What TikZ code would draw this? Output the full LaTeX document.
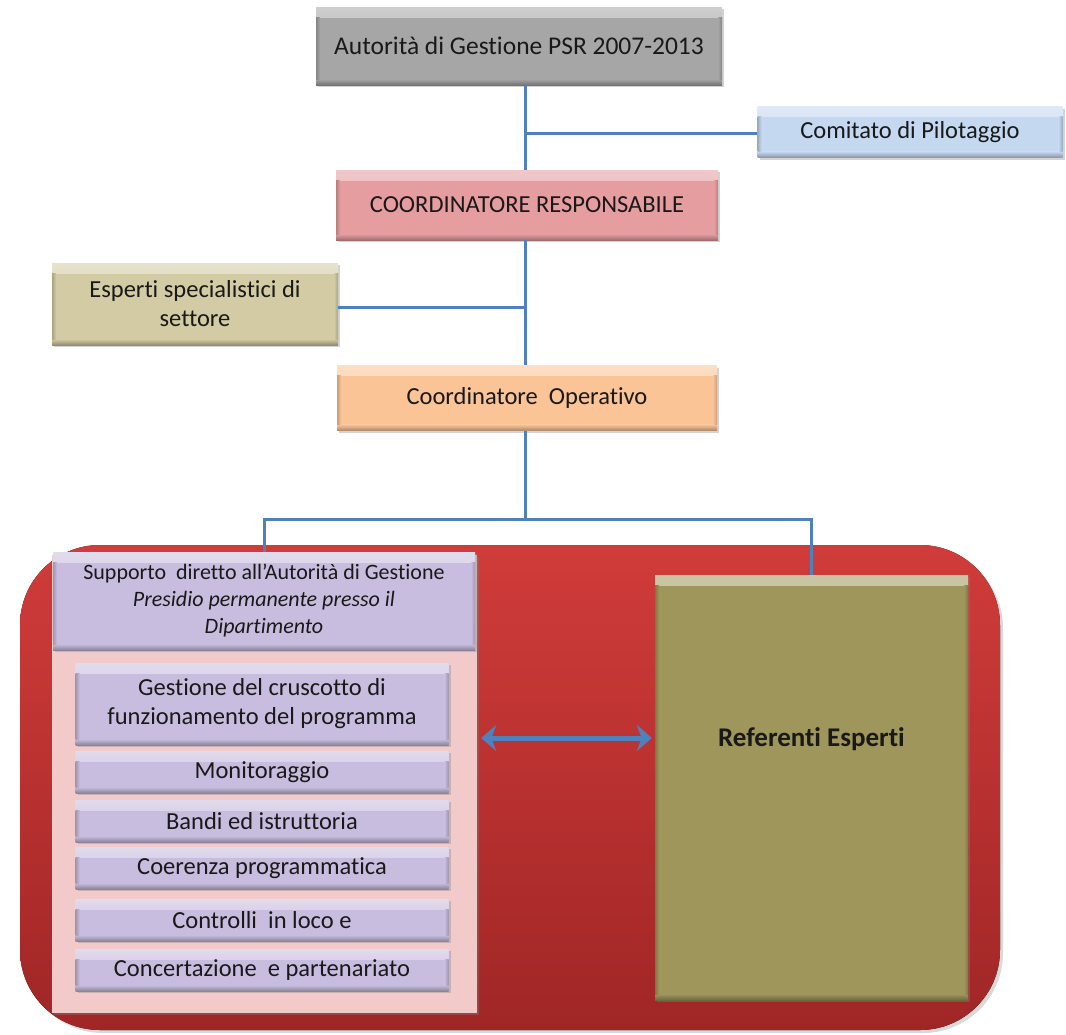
\documentclass[tikz,border=0pt]{standalone}
\usepackage{fontspec}
\setmainfont{Carlito}[Ligatures={TeX,NoCommon}]
\usetikzlibrary{arrows.meta,shadows}

\definecolor{titlegray}{RGB}{166,166,166}
\definecolor{pilotblue}{RGB}{196,216,240}
\definecolor{resppink}{RGB}{229,157,160}
\definecolor{khaki}{RGB}{210,203,163}
\definecolor{peach}{RGB}{250,196,150}
\definecolor{redtop}{RGB}{208,60,58}
\definecolor{redbottom}{RGB}{160,38,38}
\definecolor{pinkpanel}{RGB}{242,202,202}
\definecolor{lavender}{RGB}{200,189,222}
\definecolor{olive}{RGB}{158,150,90}
\definecolor{linkblue}{RGB}{79,129,189}

\begin{document}
\begin{tikzpicture}[x=1pt,y=-1pt,
	box/.style={inner sep=2pt, align=center, text=black!90,
		font=\fontsize{24.5}{29}\selectfont,
		drop shadow={shadow xshift=2pt, shadow yshift=-2pt, opacity=.35}},
	bevel/.style={fill=#1, path picture={
		\fill[top color=#1!55!white, bottom color=#1]
			(path picture bounding box.north west) rectangle ([yshift=-10pt]path picture bounding box.north east);
		\fill[top color=#1, bottom color=#1!70!black]
			([yshift=6pt]path picture bounding box.south west) rectangle (path picture bounding box.south east);
		\fill[left color=#1!80!black, right color=#1]
			([yshift=-10pt]path picture bounding box.north west) rectangle ([xshift=4pt,yshift=6pt]path picture bounding box.south west);
		\fill[left color=#1, right color=#1!80!black]
			([xshift=-4pt,yshift=-10pt]path picture bounding box.north east) rectangle ([yshift=6pt]path picture bounding box.south east);}},
	item/.style={box, bevel=lavender, minimum width=373pt, minimum height=42pt},
	link/.style={draw=linkblue, line width=3pt},
	biarrow/.style={draw=linkblue, line width=5pt,
		{Stealth[length=15pt,width=26pt]}-{Stealth[length=15pt,width=26pt]}}]
			\useasboundingbox (0,0) rectangle (1066,1034);
			
			% upper chain
			\node[box, bevel=titlegray, minimum width=406pt, minimum height=78pt, font=\fontsize{25.5}{30}\selectfont] (adg) at (519,46) {Autorità di Gestione PSR 2007-2013};
			\node[box, bevel=pilotblue, minimum width=305pt, minimum height=51pt] (cdp) at (910,132) {Comitato di Pilotaggio};
			\node[box, bevel=resppink, minimum width=382pt, minimum height=70pt] (cres) at (527,205) {COORDINATORE RESPONSABILE};
			\node[box, bevel=khaki, minimum width=286pt, minimum height=82pt] (esp) at (195,304) {Esperti specialistici di\\settore};
			\node[box, bevel=peach, minimum width=380pt, minimum height=65pt] (cop) at (527,398) {Coordinatore\ \ Operativo};
			
			% red panel
			\fill[top color=redtop, bottom color=redbottom, rounded corners=80pt,
				drop shadow={shadow xshift=3pt, shadow yshift=-3pt, opacity=.3}] (20,545) rectangle (1000,1030);
			
			\node[fill=pinkpanel, minimum width=425pt, minimum height=458pt,
				drop shadow={shadow xshift=2pt, shadow yshift=-2pt, opacity=.35}] (pnl) at (264.5,784) {};
			\node[box, bevel=lavender, minimum width=422pt, minimum height=98pt, font=\fontsize{22}{27}\selectfont] (sup) at (264,601) {Supporto\ \ diretto all'Autorità di Gestione\\\textit{Presidio permanente presso il}\\\textit{Dipartimento}};
			
			\node[item, minimum height=82pt] (gest) at (262,704) {Gestione del cruscotto di\\funzionamento del programma};
			\node[item] (mon) at (262,772) {Monitoraggio};
			\node[item] (bandi) at (262,821) {Bandi ed istruttoria};
			\node[item] (coer) at (262,868) {Coerenza programmatica};
			\node[item] (contr) at (262,920) {Controlli\ \ in loco e};
			\node[item] (conc) at (262,970) {Concertazione\ \ e partenariato};
			
			\node[box, bevel=olive, minimum width=313pt, minimum height=425pt, text depth=100pt,
				font=\bfseries\fontsize{27}{30}\selectfont] (ref) at (811.5,787.5) {Referenti Esperti};
			
			% connectors
			\coordinate (j1) at (525,133);
			\coordinate (j2) at (525,307);
			\coordinate (j3) at (525,519);
			\draw[link] (adg.south -| j1) -- (cres.north -| j1);
			\draw[link] (j1) -- (j1 -| cdp.west);
			\draw[link] (cres.south -| j2) -- (cop.north -| j2);
			\draw[link] (j2) -- (j2 -| esp.east);
			\draw[link] (cop.south -| j3) -- (j3);
			\draw[link] (sup.north) |- (j3) -| (ref.north);
			
			\coordinate (arr) at (560,738);
			\draw[biarrow, shorten <=4pt, shorten >=3pt] (arr -| pnl.east) -- (arr -| ref.west);
\end{tikzpicture}
\end{document}
